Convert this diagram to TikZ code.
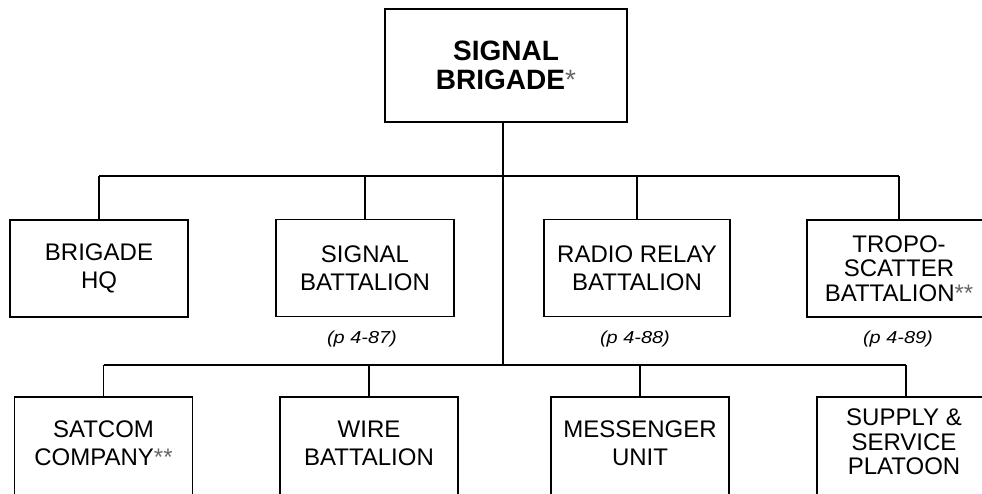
\documentclass[tikz,border=0pt]{standalone}
\usepackage{fontspec}
\setmainfont{Liberation Sans}
\usepackage{graphicx}
\newcommand\gstar{{\mdseries\color{black!60}*}}
\newcommand\gstars{{\mdseries\color{black!60}**}}
\tikzset{
  unit/.style={draw, line width=1.4pt, rectangle, align=center, inner sep=0pt,
    minimum width=133.5pt, minimum height=72.75pt,
    font=\fontsize{18}{21}\selectfont},
  unitthree/.style={unit, font=\fontsize{18}{18.3}\selectfont},
  lowbox/.style={draw, line width=1.4pt, rectangle, inner sep=0pt,
    minimum width=133.5pt, minimum height=76.5pt},
  lowtext/.style={align=center, inner sep=0pt, font=\fontsize{18}{21}\selectfont},
  lowtextthree/.style={lowtext, font=\fontsize{18}{18.3}\selectfont},
  ref/.style={inner sep=0pt, font=\fontsize{13}{15}\selectfont\itshape},
  wire/.style={line width=1.4pt}
}
\begin{document}
\begin{tikzpicture}[x=0.75pt,y=-0.75pt]
\useasboundingbox (0,0) rectangle (982,493);
\clip (0,0) rectangle (982,493);
% top
\node[unit, minimum width=181.5pt, minimum height=84.75pt,
  font=\fontsize{21}{21.75}\selectfont\bfseries] (top) at (506,65.5) {SIGNAL\\BRIGADE\gstar};
\coordinate (j1) at (503,176);
\coordinate (j2) at (503,365);
% upper row
\node[unit] (hq) at (99,268.5) {BRIGADE\\HQ};
\node[unit] (sb) at (365,268) {SIGNAL\\BATTALION};
\node[unit, minimum width=139.5pt] (rr) at (637,268) {RADIO RELAY\\BATTALION};
\node[unitthree, minimum width=138pt] (tr) at (899,268.5) {TROPO-\\SCATTER\\BATTALION\gstars};
\node[ref] (lsb) at (362,339) {\scalebox{1.15}[1]{(p 4-87)}};
\node[ref] (lrr) at (635,339) {\scalebox{1.15}[1]{(p 4-88)}};
\node[ref] (ltr) at (898,339) {\scalebox{1.15}[1]{(p 4-89)}};
% lower row
\node[lowbox] (sat) at (103.5,448) {};
\node[lowbox] (wire) at (369,448) {};
\node[lowbox] (mess) at (640,448) {};
\node[lowbox] (sup) at (906,448) {};
\node[lowtext] (satt) at (103.5,443) {SATCOM\\COMPANY\gstars};
\node[lowtext] (wiret) at (369,443) {WIRE\\BATTALION};
\node[lowtext] (messt) at (640,443) {MESSENGER\\UNIT};
\node[lowtextthree] (supt) at (904,442) {SUPPLY \&\\SERVICE\\PLATOON};
% connectors
\draw[wire] (top.south -| j1) -- (j2);
\draw[wire] (hq.north |- j1) -- (tr.north |- j1);
\foreach \n in {hq,sb,rr,tr} \draw[wire] (\n.north |- j1) -- (\n.north);
\draw[wire] (sat.north |- j2) -- (sup.north |- j2);
\foreach \n in {sat,wire,mess,sup} \draw[wire] (\n.north |- j2) -- (\n.north);
\end{tikzpicture}
\end{document}
